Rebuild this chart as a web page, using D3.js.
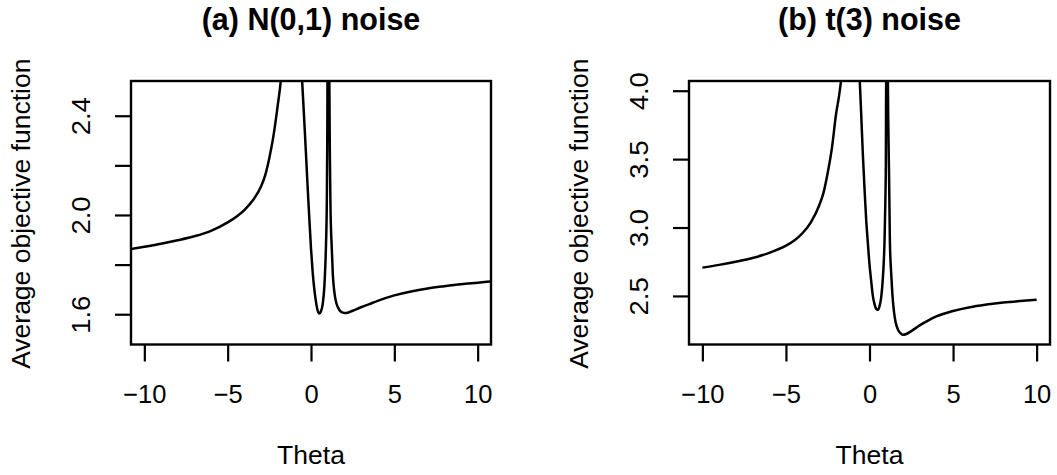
<!DOCTYPE html>
<html><head><meta charset="utf-8">
<script src="https://cdn.jsdelivr.net/npm/d3@7"></script>
<style>body{margin:0;background:#fff}</style>
</head><body>
<svg id="c" width="1057" height="475"></svg>
<script>
// ---- data ----
const titleA = "(a) N(0,1) noise";
const titleB = "(b) t(3) noise";
const xLabel = "Theta";
const yLabel = "Average objective function";

const xTicks = [-10, -5, 0, 5, 10];
const yTicksA = [1.6, 1.8, 2.0, 2.2, 2.4];
const yLabelsA = [1.6, 2.0, 2.4];
const yTicksB = [2.5, 3.0, 3.5, 4.0];
const yLabelsB = [2.5, 3.0, 3.5, 4.0];

const thetaA = [-10.8,-10,-9,-8,-7,-6,-5,-4.5,-4,-3.5,-3,-2.75,-2.5,-2.25,-2,-1.8,-1.6,-1.4,
  -0.8,-0.6,-0.5,-0.4,-0.3,-0.2,-0.1,0,0.1,0.2,0.3,0.4,0.5,0.6,0.7,0.8,0.85,0.9,0.95,0.98,1.0,
  1.06,1.1,1.13,1.17,1.25,1.31,1.4,1.5,1.6,1.8,2.0,2.2,2.5,3,3.5,4,5,6,7,8,9,10,10.8];
const objA = [1.863,1.872,1.884,1.898,1.914,1.936,1.97,1.992,2.02,2.058,2.115,2.16,2.23,2.32,2.44,2.55,2.75,3.1,
  3.1,2.63,2.50,2.375,2.245,2.11,1.985,1.865,1.77,1.70,1.65,1.615,1.603,1.612,1.64,1.71,1.78,1.88,2.06,2.35,2.8,
  2.9,2.55,2.25,2.03,1.86,1.76,1.69,1.65,1.63,1.61,1.605,1.606,1.614,1.628,1.641,1.654,1.676,1.692,1.704,1.713,1.721,1.727,1.732];

const thetaB = [-10,-9,-8,-7,-6,-5,-4.5,-4,-3.5,-3,-2.75,-2.5,-2.25,-2,-1.8,-1.6,-1.4,
  -0.8,-0.6,-0.5,-0.4,-0.3,-0.2,-0.1,0,0.1,0.2,0.3,0.4,0.5,0.6,0.7,0.8,0.85,0.9,0.95,0.98,1.0,
  1.08,1.12,1.17,1.22,1.3,1.36,1.45,1.56,1.7,1.85,2,2.2,2.5,3,3.5,4,5,6,7,8,9,10];
const objB = [2.707,2.727,2.75,2.777,2.815,2.868,2.905,2.96,3.04,3.165,3.255,3.40,3.58,3.83,3.98,4.2,4.6,
  4.6,4.12,3.84,3.54,3.29,3.06,2.89,2.73,2.61,2.50,2.44,2.405,2.398,2.425,2.49,2.63,2.74,2.9,3.2,3.5,4.2,
  4.3,3.8,3.39,2.9,2.66,2.53,2.40,2.31,2.255,2.228,2.216,2.222,2.243,2.285,2.32,2.35,2.39,2.418,2.437,2.452,2.463,2.472];

// ---- drawing ----
const svg = d3.select("#c");
const FONT = "'Liberation Sans', Arial, Helvetica, sans-serif";

function panel(opts) {
  const {id, left, right, top, bottom, xDomain, yDomain, theta, obj, title, yTicks, yLabels} = opts;
  const x = d3.scaleLinear().domain(xDomain).range([left, right]);
  const y = d3.scaleLinear().domain(yDomain).range([bottom, top]);
  const g = svg.append("g");

  g.append("clipPath").attr("id", "clip" + id)
    .append("rect").attr("x", left).attr("y", top).attr("width", right - left).attr("height", bottom - top);

  const line = d3.line().x((d, i) => x(theta[i])).y(d => y(d)).curve(d3.curveMonotoneX);
  g.append("path").datum(obj)
    .attr("clip-path", "url(#clip" + id + ")")
    .attr("d", line)
    .attr("fill", "none").attr("stroke", "#000").attr("stroke-width", 2.5)
    .attr("stroke-linejoin", "round");

  g.append("rect").attr("x", left).attr("y", top).attr("width", right - left).attr("height", bottom - top)
    .attr("fill", "none").attr("stroke", "#000").attr("stroke-width", 2.4);

  const xAxis = d3.axisBottom(x).tickValues(xTicks).tickSize(17).tickPadding(22)
    .tickFormat(d => d < 0 ? "\u2212" + Math.abs(d) : String(d));
  const ga = g.append("g").attr("transform", `translate(0,${bottom})`).call(xAxis);
  ga.select(".domain").remove();
  ga.selectAll(".tick line").attr("stroke", "#000").attr("stroke-width", 2.2);
  ga.selectAll(".tick text").attr("font-family", FONT).attr("font-size", 25.5).attr("fill", "#000")
    .attr("dy", null).attr("y", 58.5);

  const yAxis = d3.axisLeft(y).tickValues(yTicks).tickSize(16)
    .tickFormat(d => yLabels.some(v => Math.abs(v - d) < 1e-9) ? d.toFixed(1) : "");
  const gy = g.append("g").attr("transform", `translate(${left},0)`).call(yAxis);
  gy.select(".domain").remove();
  gy.selectAll(".tick line").attr("stroke", "#000").attr("stroke-width", 2.2);
  gy.selectAll(".tick text").attr("font-family", FONT).attr("font-size", 25).attr("fill", "#000")
    .attr("x", null).attr("dy", null).attr("text-anchor", "middle")
    .attr("transform", "translate(-41,0) rotate(-90) scale(1.1,1)");

  g.append("text").text(title)
    .attr("x", (left + right) / 2).attr("y", 30)
    .attr("text-anchor", "middle").attr("font-family", FONT).attr("font-weight", "bold")
    .attr("font-size", 30.5).attr("fill", "#000");

  g.append("text").text(xLabel)
    .attr("x", (left + right) / 2).attr("y", 464)
    .attr("text-anchor", "middle").attr("font-family", FONT)
    .attr("font-size", 26.5).attr("fill", "#000");

  g.append("text").text(yLabel)
    .attr("transform", `translate(${left - 101},${(top + bottom) / 2 + 1}) rotate(-90) scale(1.06,1)`)
    .attr("text-anchor", "middle").attr("font-family", FONT)
    .attr("font-size", 25).attr("fill", "#000");
}

panel({id: "a", left: 131, right: 491, top: 81, bottom: 344.5,
  xDomain: [-10.8, 10.8], yDomain: [1.478, 2.540],
  theta: thetaA, obj: objA, title: titleA, yTicks: yTicksA, yLabels: yLabelsA});
panel({id: "b", left: 689, right: 1050, top: 81, bottom: 344.5,
  xDomain: [-10.8, 10.8], yDomain: [2.145, 4.071],
  theta: thetaB, obj: objB, title: titleB, yTicks: yTicksB, yLabels: yLabelsB});
</script>
</body></html>
